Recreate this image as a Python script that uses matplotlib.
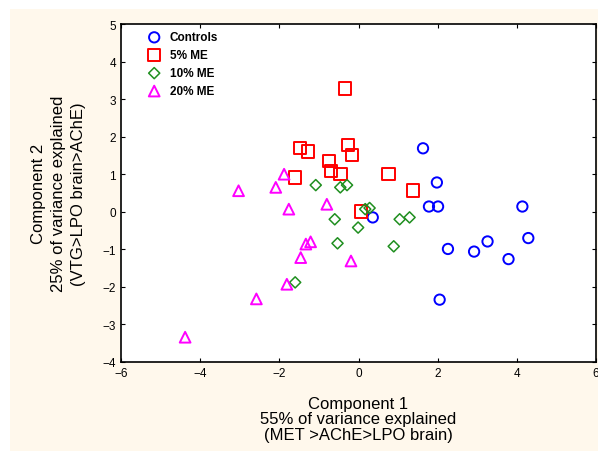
import matplotlib.pyplot as plt
from matplotlib.patches import Rectangle

plt.rcParams["font.family"] = ["Liberation Sans", "DejaVu Sans"]

# PCA scores
ctrl_x = [1.63, 1.98, 1.78, 2.01, 2.26, 2.92, 3.26, 3.79, 4.14, 4.29, 2.05, 0.36]
ctrl_y = [1.69, 0.78, 0.14, 0.14, -0.99, -1.06, -0.79, -1.26, 0.14, -0.70, -2.34, -0.15]

me5_x = [-0.34, -1.48, -1.27, -0.26, -0.17, -0.74, -0.70, -0.46, -1.61, 0.76, 1.38, 0.06]
me5_y = [3.28, 1.70, 1.61, 1.78, 1.51, 1.35, 1.09, 1.00, 0.91, 1.00, 0.57, 0.01]

me10_x = [-1.08, -0.46, -0.29, 0.17, 0.28, -0.60, -0.01, 1.04, 1.29, -0.53, 0.89, -1.60]
me10_y = [0.71, 0.65, 0.71, 0.07, 0.10, -0.20, -0.42, -0.20, -0.15, -0.84, -0.92, -1.88]

me20_x = [-1.88, -3.03, -2.09, -1.76, -0.80, -1.21, -1.33, -1.46, -0.19, -1.81, -2.58, -4.38]
me20_y = [1.00, 0.56, 0.65, 0.07, 0.20, -0.80, -0.86, -1.22, -1.31, -1.93, -2.32, -3.34]

fig = plt.figure(figsize=(5.98, 4.52), dpi=100)
fig.patch.set_facecolor("white")
fig.patches.append(Rectangle((10 / 598, 0), 1, 1 - 10 / 452, transform=fig.transFigure,
                             facecolor="#fff8ec", edgecolor="none", zorder=-10))

ax = fig.add_axes([121 / 598, 1 - 363 / 452, 475 / 598, 338 / 452])
ax.set_facecolor("white")

ax.scatter(ctrl_x, ctrl_y, marker="o", s=55, facecolors="none", edgecolors="#0000ff",
           linewidths=1.4, label="Controls")
ax.scatter(me5_x, me5_y, marker="s", s=80, facecolors="none", edgecolors="#ff0000",
           linewidths=1.4, label="5% ME")
ax.scatter(me10_x, me10_y, marker="D", s=32, facecolors="none", edgecolors="#1f8f1f",
           linewidths=1.1, label="10% ME")
ax.scatter(me20_x, me20_y, marker="^", s=60, facecolors="none", edgecolors="#ff00ff",
           linewidths=1.4, label="20% ME")

ax.set_xlim(-6, 6)
ax.set_ylim(-4, 5)
ax.set_xticks(range(-6, 7, 2))
ax.set_yticks(range(-4, 6))
ax.tick_params(direction="in", top=True, right=True, length=3, labelsize=8.5)
for s in ax.spines.values():
    s.set_linewidth(1.2)

ax.set_xlabel("Component 1\n55% of variance explained\n(MET >AChE>LPO brain)",
              fontsize=12, linespacing=1.05, labelpad=12)
ax.set_ylabel("Component 2\n25% of variance explained\n(VTG>LPO brain>AChE)",
              fontsize=12, linespacing=1.4, labelpad=12)

ax.legend(loc="upper left", frameon=False, prop={"size": 8.5, "weight": "bold"},
          handletextpad=0.7, labelspacing=0.5, borderpad=0, borderaxespad=0,
          handlelength=1.2, bbox_to_anchor=(0.055, 0.978))

fig.savefig("out.png", dpi=100)
